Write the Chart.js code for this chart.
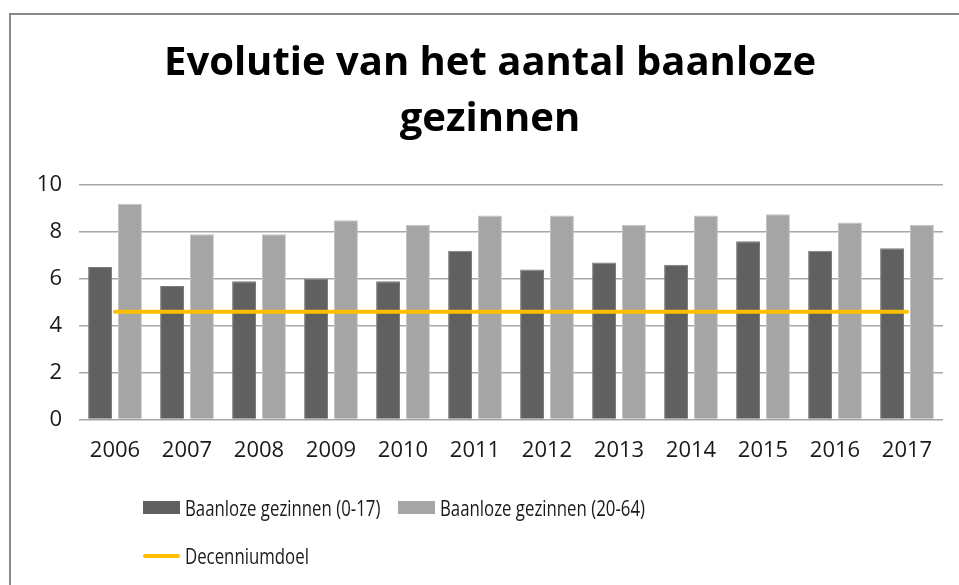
<!DOCTYPE html>
<html>
<head>
<meta charset="utf-8">
<script src="https://cdn.jsdelivr.net/npm/chart.js@4.4.1/dist/chart.umd.min.js"></script>
<style>
  body { margin: 0; background: #fff; overflow: hidden; width: 959px; height: 585px; position: relative; font-family: "Open Sans", sans-serif; }
  #kader { position: absolute; left: 9px; top: 13px; width: 958px; height: 600px; border-left: 2px solid #888; border-top: 2px solid #888; }
  #grafiek { position: absolute; left: 0; top: 0; }
  .teken { position: absolute; }
  .tekst { position: absolute; font-size: 21px; color: #1a1a1a; white-space: nowrap; transform: scaleX(0.8); transform-origin: left center; line-height: 24px; }
</style>
</head>
<body>
<div id="kader">
  <canvas id="grafiek" width="956" height="570"></canvas>
</div>
<div id="legende"></div>

<script>
// data
const jaren = ["2006", "2007", "2008", "2009", "2010", "2011", "2012", "2013", "2014", "2015", "2016", "2017"];
const kinderen = [6.5, 5.7, 5.9, 6.0, 5.9, 7.2, 6.4, 6.7, 6.6, 7.6, 7.2, 7.3];
const volwassenen = [9.2, 7.9, 7.9, 8.5, 8.3, 8.7, 8.7, 8.3, 8.7, 8.75, 8.4, 8.3];
const doel = [4.6, 4.6, 4.6, 4.6, 4.6, 4.6, 4.6, 4.6, 4.6, 4.6, 4.6, 4.6];
const yTicks = [0, 2, 4, 6, 8, 10];

const namen = ["Baanloze gezinnen (0-17)", "Baanloze gezinnen (20-64)", "Decenniumdoel"];
const kleuren = ["#606060", "#a5a5a5", "#ffc000"];

const ctx = document.getElementById("grafiek").getContext("2d");
const chart = new Chart(ctx, {
  type: "bar",
  data: {
    labels: jaren,
    datasets: [
      {
        label: namen[0],
        data: kinderen,
        backgroundColor: kleuren[0],
        borderColor: "#7c7c7c",
        borderWidth: 1,
        categoryPercentage: 0.83,
        barPercentage: 0.8,
        order: 2,
      },
      {
        label: namen[1],
        data: volwassenen,
        backgroundColor: kleuren[1],
        borderColor: "#c4c4c4",
        borderWidth: 1,
        categoryPercentage: 0.83,
        barPercentage: 0.8,
        order: 2,
      },
      {
        type: "line",
        label: namen[2],
        data: doel,
        borderColor: kleuren[2],
        borderWidth: 4,
        borderCapStyle: "round",
        pointRadius: 0,
        fill: false,
        order: 1,
      },
    ],
  },
  options: {
    responsive: false,
    animation: false,
    layout: { padding: { left: 26, right: 24, top: 0, bottom: 103 } },
    plugins: {
      legend: { display: false },
      tooltip: { enabled: false },
      title: {
        display: true,
        text: ["Evolutie van het aantal baanloze", "gezinnen"],
        color: "#000",
        font: { family: "Open Sans", size: 40, weight: "bold", lineHeight: 1.4 },
        padding: { top: 21, bottom: 37 },
      },
    },
    scales: {
      x: {
        grid: { display: false, drawTicks: false },
        border: { display: false },
        ticks: { color: "#1a1a1a", font: { family: "Open Sans", size: 22 }, padding: 18 },
      },
      y: {
        min: 0,
        max: 10,
        afterBuildTicks: function (as) {
          as.ticks = yTicks.map(function (v) { return { value: v }; });
        },
        afterFit: function (as) {
          as.width = 42;
        },
        grid: { color: "#a6a6a6", lineWidth: 1.5, drawTicks: false },
        border: { display: false },
        ticks: { color: "#1a1a1a", font: { family: "Open Sans", size: 22 }, padding: 17 },
      },
    },
  },
});

// legende in HTML, links uitgelijnd zoals in het origineel
const legendePlek = [
  { x: 143, y: 508, tx: 185 },
  { x: 398, y: 508, tx: 440 },
  { x: 143, y: 556, tx: 185 },
];
const legende = document.getElementById("legende");
legendePlek.forEach(function (p, i) {
  const teken = document.createElement("div");
  teken.className = "teken";
  teken.style.background = kleuren[i];
  teken.style.left = p.x + "px";
  teken.style.width = "37px";
  if (i == 2) {
    teken.style.top = p.y - 2 + "px";
    teken.style.height = "4px";
    teken.style.borderRadius = "2px";
  } else {
    teken.style.top = p.y - 7 + "px";
    teken.style.height = "13px";
  }
  const tekst = document.createElement("div");
  tekst.className = "tekst";
  tekst.textContent = namen[i];
  tekst.style.left = p.tx + "px";
  tekst.style.top = p.y - 12 + "px";
  legende.appendChild(teken);
  legende.appendChild(tekst);
});
</script>
</body>
</html>
